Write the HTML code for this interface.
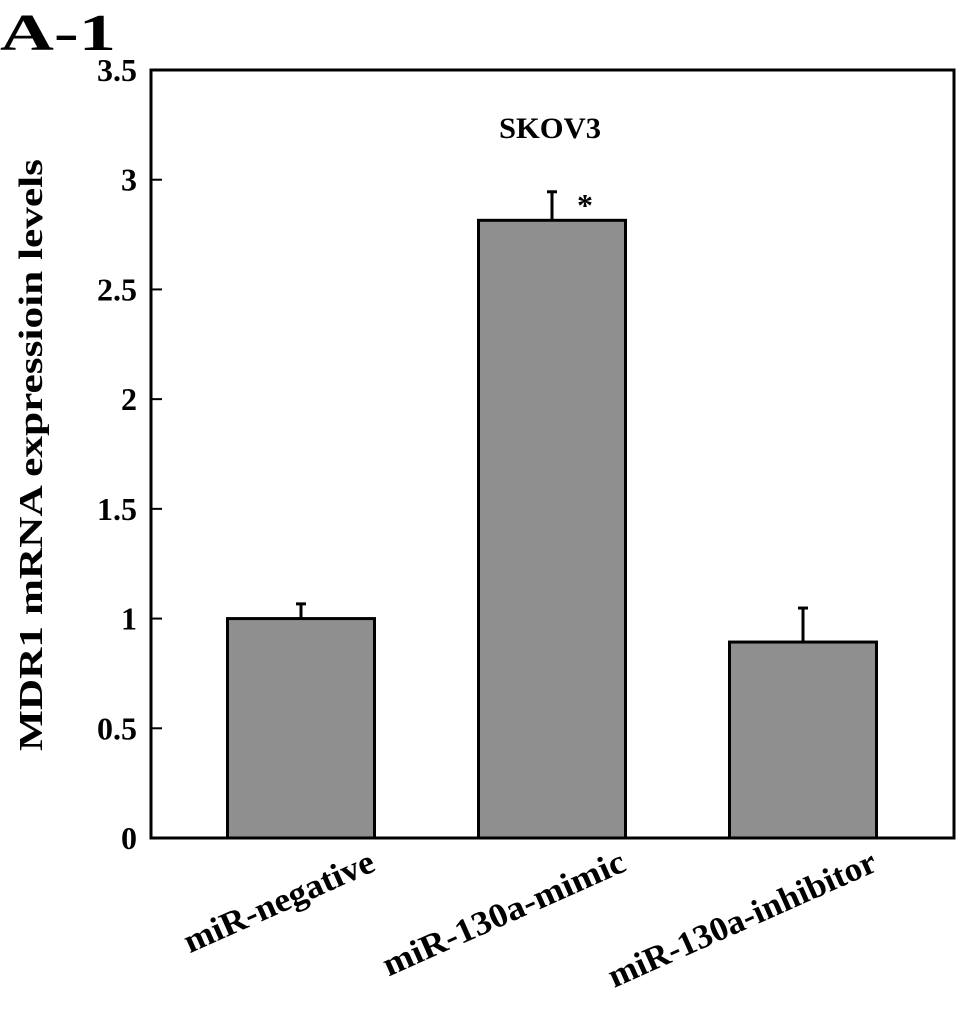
<!DOCTYPE html>
<html><head><meta charset="utf-8"><style>
html,body{margin:0;padding:0;background:#fff;width:969px;height:1014px;overflow:hidden}
text{font-family:"Liberation Serif",serif;font-weight:bold;fill:#000}
</style></head><body>
<svg id="chart" width="969" height="1014" viewBox="0 0 969 1014" xmlns="http://www.w3.org/2000/svg">
<text x="0" y="50" font-size="52" textLength="116" lengthAdjust="spacingAndGlyphs">A-1</text>
<text x="550" y="138" font-size="30" text-anchor="middle" textLength="102" lengthAdjust="spacingAndGlyphs">SKOV3</text>
<text transform="translate(42,455) rotate(-90)" font-size="34" text-anchor="middle" textLength="592" lengthAdjust="spacingAndGlyphs">MDR1 mRNA expressioin levels</text>
<g id="ticks"></g>
<g id="bars"></g>
<rect x="151" y="70" width="803" height="768" fill="none" stroke="#000" stroke-width="3"/>
</svg>
<script>
const categories=["miR-negative","miR-130a-mimic","miR-130a-inhibitor"];
const values=[1.0,2.815,0.893];
const errors=[0.067,0.13,0.155];
const yTicks=[0,0.5,1,1.5,2,2.5,3,3.5];
const yTickLabels=["0","0.5","1","1.5","2","2.5","3","3.5"];
const sig=[false,true,false];
const NS="http://www.w3.org/2000/svg";
const x0=151,x1=954,yb=838,yt=70,ymax=3.5;
const y=v=>yb-(v/ymax)*(yb-yt);
const step=251, bw=147;
const xc=i=>x0+150+step*i;
const labelLen=[205,262,290];
function mk(t,a,p){const e=document.createElementNS(NS,t);for(const k in a)e.setAttribute(k,a[k]);p.appendChild(e);return e;}
const tg=document.getElementById('ticks'),bg=document.getElementById('bars');
yTicks.forEach((v,i)=>{
 const l=mk('line',{x1:x0,x2:x0+11,y1:y(v),y2:y(v),stroke:'#000','stroke-width':2},tg);
 
 
 const t=mk('text',{x:137,y:y(v)+11,'font-size':32,'text-anchor':'end'},tg);
 t.textContent=yTickLabels[i];
 
 
});
categories.forEach((c,i)=>{
 const cx=xc(i);
 const eb=mk('line',{x1:cx,x2:cx,y1:y(values[i]),y2:y(values[i]+errors[i]),stroke:'#000','stroke-width':3},bg);
 
 
 const cap=mk('line',{x1:cx-5,x2:cx+5,y1:y(values[i]+errors[i]),y2:y(values[i]+errors[i]),stroke:'#000','stroke-width':3},bg);
 
 
 const r=mk('rect',{x:cx-bw/2,y:y(values[i]),width:bw,height:yb-y(values[i]),fill:'#8f8f8f',stroke:'#000','stroke-width':3},bg);
 
 
 if(sig[i]){const s=mk('text',{x:cx+33,y:y(values[i]+errors[i])+24,'font-size':32,'text-anchor':'middle'},bg);s.textContent='*';
  
  }
 const t=mk('text',{transform:`translate(${cx+76},${870}) rotate(-24)`,'font-size':34,'text-anchor':'end',textLength:labelLen[i],lengthAdjust:'spacingAndGlyphs'},bg);
 t.textContent=c;
 
 
});
</script>
</body></html>
